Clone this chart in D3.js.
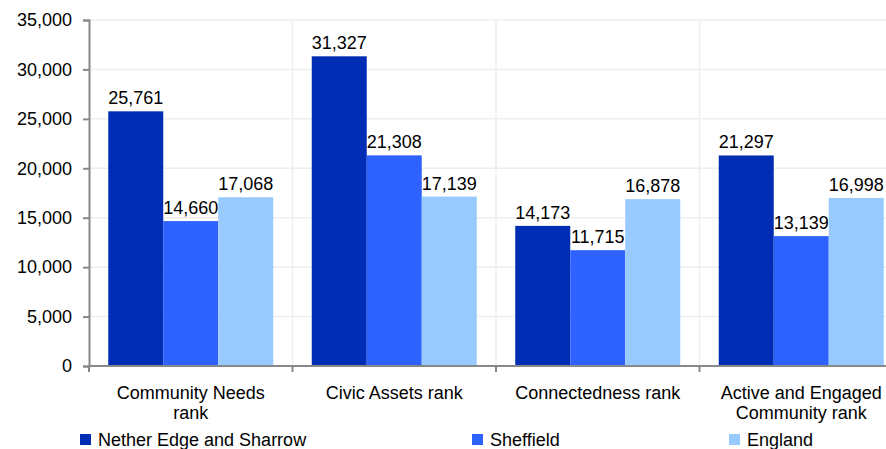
<!DOCTYPE html>
<html>
<head>
<meta charset="utf-8">
<script src="https://cdn.jsdelivr.net/npm/d3@7"></script>
<style>
  body { margin: 0; background: #fff; }
  svg { display: block; font-family: "Liberation Sans", Arial, sans-serif; }
</style>
</head>
<body>
<div id="chart"></div>
<script>
// ---- Data ----
const categories = [
  ["Community Needs", "rank"],
  ["Civic Assets rank"],
  ["Connectedness rank"],
  ["Active and Engaged", "Community rank"]
];
const seriesNames = ["Nether Edge and Sharrow", "Sheffield", "England"];
const netherEdge = [25761, 31327, 14173, 21297];
const sheffield  = [14660, 21308, 11715, 13139];
const england    = [17068, 17139, 16878, 16998];
const yTicks = [0, 5000, 10000, 15000, 20000, 25000, 30000, 35000];

const colors = ["#002db3", "#2e62ff", "#99caff"];
const series = [netherEdge, sheffield, england];
const FS = 18;

const W = 886, H = 449;
const margin = { left: 89, top: 20, right: -17, bottom: 83 };
const plotW = W - margin.left - margin.right;
const plotH = H - margin.top - margin.bottom;

const svg = d3.select("#chart").append("svg")
  .attr("width", W).attr("height", H);

const g = svg.append("g").attr("transform", `translate(${margin.left},${margin.top})`);

// ---- Scales ----
const x = d3.scaleBand()
  .domain(d3.range(categories.length))
  .range([0, plotW]);

const xInner = d3.scaleBand()
  .domain(d3.range(series.length))
  .range([0, x.bandwidth()])
  .paddingOuter(0.35)
  .paddingInner(0);

const y = d3.scaleLinear().domain([0, 35000]).range([plotH, 0]);

// ---- Gridlines ----
g.selectAll(".hgrid")
  .data(yTicks.slice(1))
  .join("line")
  .attr("x1", 0).attr("x2", plotW)
  .attr("y1", d => y(d)).attr("y2", d => y(d))
  .attr("stroke", "#eeeeee").attr("stroke-width", 1.5);

g.selectAll(".vgrid")
  .data(d3.range(1, categories.length + 1))
  .join("line")
  .attr("x1", d => d * x.step()).attr("x2", d => d * x.step())
  .attr("y1", 0).attr("y2", plotH)
  .attr("stroke", "#eeeeee").attr("stroke-width", 1.5);

// ---- Bars ----
series.forEach((vals, si) => {
  g.selectAll(".bar-" + si)
    .data(vals)
    .join("rect")
    .attr("x", (d, i) => x(i) + xInner(si))
    .attr("width", xInner.bandwidth())
    .attr("y", d => y(d))
    .attr("height", d => plotH - y(d))
    .attr("fill", colors[si]);

  g.selectAll(".lab-" + si)
    .data(vals)
    .join("text")
    .attr("x", (d, i) => x(i) + xInner(si) + xInner.bandwidth() / 2)
    .attr("y", d => y(d) - 7)
    .attr("text-anchor", "middle")
    .attr("font-size", FS)
    .attr("fill", "#000")
    .text(d => d3.format(",")(d));
});

// ---- Y axis ----
const yAxis = g.append("g")
  .call(d3.axisLeft(y).tickValues(yTicks).tickSize(6).tickFormat(d3.format(",")));
yAxis.select(".domain").attr("stroke", "#888").attr("stroke-width", 2);
yAxis.selectAll(".tick line").attr("stroke", "#888").attr("stroke-width", 2);
yAxis.selectAll(".tick text")
  .attr("font-size", FS).attr("fill", "#000")
  .attr("font-family", "Liberation Sans, Arial, sans-serif")
  .attr("x", -17);

// ---- X axis ----
const xAxisG = g.append("g").attr("transform", `translate(0,${plotH})`);
xAxisG.append("line")
  .attr("x1", 0).attr("x2", plotW)
  .attr("stroke", "#888").attr("stroke-width", 2);
xAxisG.selectAll(".xtick")
  .data(d3.range(0, categories.length + 1))
  .join("line")
  .attr("x1", d => d * x.step()).attr("x2", d => d * x.step())
  .attr("y1", 0).attr("y2", 6)
  .attr("stroke", "#888").attr("stroke-width", 2);

xAxisG.selectAll(".xlabel")
  .data(categories)
  .join("text")
  .attr("text-anchor", "middle")
  .attr("font-size", FS)
  .attr("fill", "#000")
  .attr("transform", (d, i) => `translate(${x(i) + x.bandwidth() / 2},33)`)
  .each(function(d) {
    d.forEach((line, li) => {
      d3.select(this).append("tspan")
        .attr("x", 0).attr("dy", li === 0 ? 0 : 20)
        .text(line);
    });
  });

// ---- Legend ----
const legendX = [80, 472, 729];
const legend = svg.selectAll(".legend")
  .data(seriesNames)
  .join("g")
  .attr("transform", (d, i) => `translate(${legendX[i]},434)`);
legend.append("rect")
  .attr("width", 11).attr("height", 11)
  .attr("fill", (d, i) => colors[i]);
legend.append("text")
  .attr("x", 18).attr("y", 12)
  .attr("font-size", FS).attr("fill", "#000")
  .text(d => d);
</script>
</body>
</html>
